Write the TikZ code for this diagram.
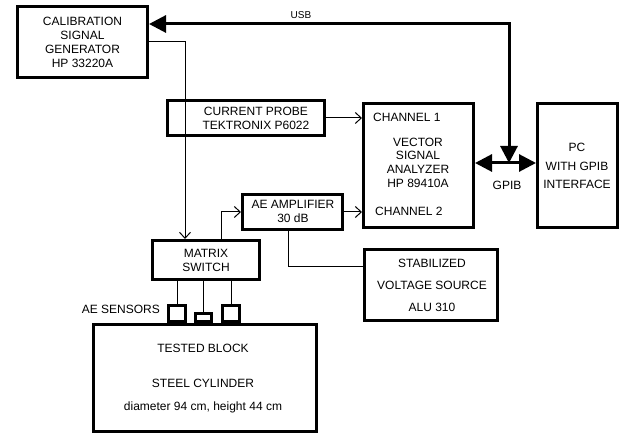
\documentclass[tikz,border=0pt]{standalone}
\usepackage{fontspec}
\setmainfont{Liberation Sans}
\usetikzlibrary{arrows.meta}
\begin{document}
\begin{tikzpicture}[x=1pt,y=-1pt,
 box/.style={draw, line width=2.8pt, inner sep=0pt},
 txt/.style={font=\fontsize{12}{14}\selectfont, align=center, inner sep=0pt},
 conn/.style={line width=1pt},
 arr/.style={conn, -{Straight Barb[length=6pt,width=11pt,line width=1pt]}},
 bus/.style={line width=3pt, {Triangle[length=17pt,width=17pt]}-{Triangle[length=17pt,width=17pt]}},
]
\useasboundingbox (0,0) rectangle (624,435);

% boxes
\node[box, minimum width=130.2pt, minimum height=71.2pt] (cal) at (82.5,42) {};
\node[txt] (caltxt) at (82.5,42) {CALIBRATION\\SIGNAL\\GENERATOR\\HP 33220A};

\node[box, minimum width=157.2pt, minimum height=35.2pt] (probe) at (246,118) {};
\node[txt] (probetxt) at (256,118) {CURRENT PROBE\\TEKTRONIX P6022};

\node[box, minimum width=110.2pt, minimum height=124.2pt] (vsa) at (418.5,165.5) {};
\node[txt, anchor=west] (ch1) at (373,117) {CHANNEL 1};
\node[txt, font=\fontsize{12}{13.7}\selectfont] (vsatxt) at (418,162.5) {VECTOR\\SIGNAL\\ANALYZER\\HP 89410A};
\node[txt, anchor=west] (ch2) at (375,211) {CHANNEL 2};

\node[box, minimum width=80.2pt, minimum height=124.2pt] (pc) at (577.5,165.5) {};
\node[txt, font=\fontsize{12}{18.5}\selectfont] (pctxt) at (577,166) {PC\\WITH GPIB\\INTERFACE};

\node[box, minimum width=100.2pt, minimum height=35.2pt] (amp) at (292.5,212) {};
\node[txt] (amptxt) at (293,211) {AE AMPLIFIER\\30 dB};

\node[box, minimum width=107.2pt, minimum height=39.2pt] (matrix) at (206,260) {};
\node[txt] (matrixtxt) at (206,260) {MATRIX\\SWITCH};

\node[box, minimum width=133.2pt, minimum height=71.2pt] (stab) at (431,285) {};
\node[txt, font=\fontsize{12}{22}\selectfont] (stabtxt) at (432,285) {STABILIZED\\VOLTAGE SOURCE\\ALU 310};

\node[box, minimum width=223.2pt, minimum height=107.2pt] (block) at (205,378) {};
\node[txt] (blk1) at (203,348) {TESTED BLOCK};
\node[txt] (blk2) at (203,383) {STEEL CYLINDER};
\node[txt] (blk3) at (203,407) {diameter 94 cm, height 44 cm};

\node[box, minimum width=17.2pt, minimum height=16.2pt] (s1) at (177,313.5) {};
\node[box, minimum width=16.2pt, minimum height=8.2pt] (s2) at (203.5,317.5) {};
\node[box, minimum width=17.2pt, minimum height=16.2pt] (s3) at (231,313.5) {};
\node[txt, anchor=east] (aes) at (160,309) {AE SENSORS};

% labels
\node[txt, font=\fontsize{10}{12}\selectfont] (usb) at (301,15) {USB};
\node[txt] (gpib) at (507,185) {GPIB};

% buses
\coordinate (usbc) at (509,24);
\coordinate (gpibmid) at (509,163);
\draw[bus] (cal.east |- usbc) -- (usbc) -- (gpibmid);
\draw[bus] (vsa.east |- gpibmid) -- (pc.west |- gpibmid);

% connectors
\draw[arr] (cal.east) -| ([xshift=-21pt]matrix.north);
\draw[arr] ([xshift=15pt]matrix.north) |- (amp.west);
\draw[arr] (amp.east) -- (amp.east -| vsa.west);
\draw[arr] (probe.east) -- (probe.east -| vsa.west);
\draw[conn] ([xshift=-4.5pt]amp.south) |- ([yshift=18pt]stab.west);
\draw[conn] (s1.north) -- (s1.north |- matrix.south);
\draw[conn] (s2.north) -- (s2.north |- matrix.south);
\draw[conn] (s3.north) -- (s3.north |- matrix.south);
\end{tikzpicture}
\end{document}
